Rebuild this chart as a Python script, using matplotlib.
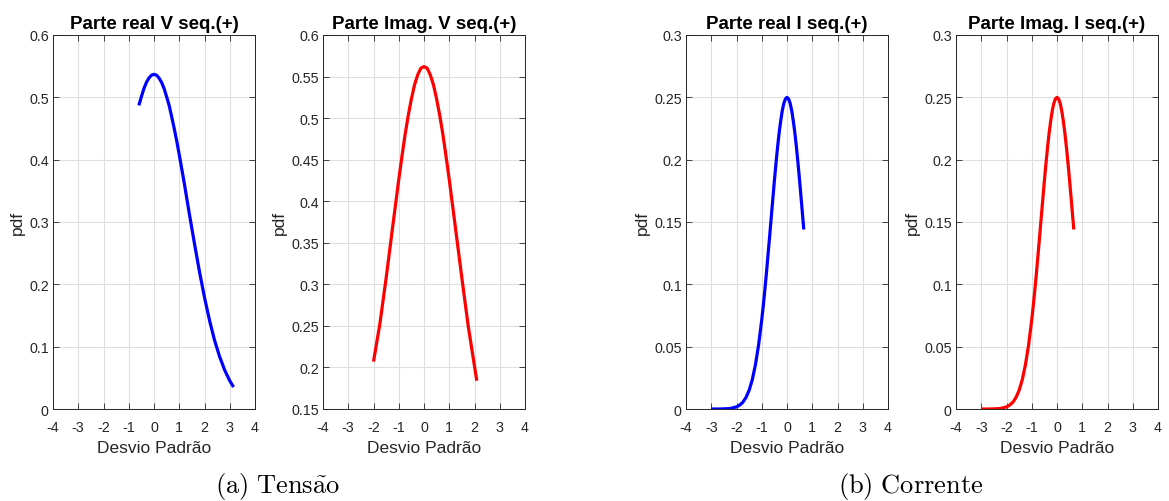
import matplotlib
matplotlib.use("Agg")
import matplotlib.pyplot as plt
from matplotlib.ticker import FormatStrFormatter, MultipleLocator

# pdf curves, x in standard deviations
v_real_x = [-0.6, -0.5, -0.4, -0.3, -0.2, -0.1, 0.0, 0.1, 0.2, 0.3, 0.4, 0.5,
            0.6, 0.7, 0.8, 0.9, 1.0, 1.2, 1.4, 1.6, 1.8, 2.0, 2.2, 2.4, 2.6,
            2.8, 3.0, 3.15]
v_real_y = [0.487, 0.501, 0.514, 0.524, 0.531, 0.5355, 0.537, 0.5355, 0.531,
            0.524, 0.514, 0.501, 0.487, 0.469, 0.450, 0.430, 0.408, 0.362,
            0.313, 0.266, 0.2205, 0.179, 0.142, 0.110, 0.0838, 0.0623, 0.0453,
            0.0352]

v_imag_x = [-2.0, -1.75, -1.5, -1.25, -1.0, -0.875, -0.75, -0.625, -0.5,
            -0.375, -0.25, -0.125, 0.0, 0.125, 0.25, 0.375, 0.5, 0.625, 0.75,
            0.875, 1.0, 1.25, 1.5, 1.75, 2.0, 2.09]
v_imag_y = [0.207, 0.252, 0.3075, 0.367, 0.426, 0.4535, 0.480, 0.503, 0.523,
            0.540, 0.552, 0.560, 0.562, 0.560, 0.552, 0.540, 0.523, 0.503,
            0.480, 0.4535, 0.426, 0.367, 0.3075, 0.250, 0.2015, 0.184]

i_real_x = [-3.0, -2.75, -2.5, -2.25, -2.0, -1.875, -1.75, -1.625, -1.5,
            -1.375, -1.25, -1.125, -1.0, -0.9375, -0.875, -0.8125, -0.75,
            -0.6875, -0.625, -0.5625, -0.5, -0.4375, -0.375, -0.3125, -0.25,
            -0.1875, -0.125, -0.0625, 0.0, 0.0625, 0.125, 0.1875, 0.25,
            0.3125, 0.375, 0.4375, 0.5, 0.5625, 0.625, 0.665]
i_real_y = [0.0, 0.0, 0.0001, 0.0004, 0.0017, 0.0031, 0.0054, 0.0092, 0.0150,
            0.0235, 0.0355, 0.0514, 0.0716, 0.0833, 0.0960, 0.1095, 0.124,
            0.1385, 0.1535, 0.1683, 0.183, 0.1968, 0.2097, 0.2213, 0.231,
            0.2393, 0.2452, 0.2488, 0.250, 0.2488, 0.2452, 0.2393, 0.231,
            0.2213, 0.2097, 0.1968, 0.183, 0.1683, 0.1535, 0.144]

i_imag_x = list(i_real_x)
i_imag_y = list(i_real_y)

titles = ["Parte real V seq.(+)", "Parte Imag. V seq.(+)",
          "Parte real I seq.(+)", "Parte Imag. I seq.(+)"]
ylims = [(0, 0.6), (0.15, 0.6), (0, 0.3), (0, 0.3)]
ysteps = [0.1, 0.05, 0.05, 0.05]

INK = "#262626"
GRID = "#dfdfdf"

plt.rcParams["font.family"] = ["Liberation Sans", "DejaVu Sans"]
plt.rcParams["mathtext.fontset"] = "cm"

fig = plt.figure(figsize=(11.69, 5.02), dpi=100, facecolor="white")
W, H = 1169.0, 502.0
lefts = [53, 323, 686, 956]
top, bottom = 36, 410

series = [(v_real_x, v_real_y, "#0000ff"), (v_imag_x, v_imag_y, "#ff0000"),
          (i_real_x, i_real_y, "#0000ff"), (i_imag_x, i_imag_y, "#ff0000")]

for k, (xs, ys, col) in enumerate(series):
    ax = fig.add_axes([lefts[k] / W, 1 - bottom / H, 202 / W, (bottom - top) / H])
    ax.plot(xs, ys, color=col, linewidth=2.3, solid_capstyle="butt",
            solid_joinstyle="round")
    ax.set_xlim(-4, 4)
    ax.set_ylim(*ylims[k])
    ax.xaxis.set_major_locator(MultipleLocator(1))
    ax.yaxis.set_major_locator(MultipleLocator(ysteps[k]))
    ax.yaxis.set_major_formatter(FormatStrFormatter("%g"))
    ax.xaxis.set_major_formatter(FormatStrFormatter("%g"))
    ax.grid(True, color=GRID, linewidth=0.8)
    ax.set_axisbelow(True)
    ax.tick_params(direction="in", top=True, right=True, length=4, width=0.6,
                   colors=INK, labelsize=10.3, pad=3)
    ax.tick_params(axis="x", pad=8)
    for sp in ax.spines.values():
        sp.set_color(INK)
        sp.set_linewidth(0.7)
    ax.set_title(titles[k], fontsize=13.5, fontweight="bold", color="black", pad=5)
    ax.set_xlabel("Desvio Padr\u00e3o", fontsize=12.5, color=INK, labelpad=4)
    ax.set_ylabel("pdf", fontsize=12.5, color=INK, labelpad=3)

fig.text(277 / W, 1 - 487 / H, r"$\mathrm{(a)\ Tens\tilde{a}o}$",
         ha="center", va="center", fontsize=19, color="black")
fig.text(911 / W, 1 - 487 / H, r"$\mathrm{(b)\ Corrente}$",
         ha="center", va="center", fontsize=19, color="black")

fig.savefig("out.png", dpi=100, facecolor="white")
